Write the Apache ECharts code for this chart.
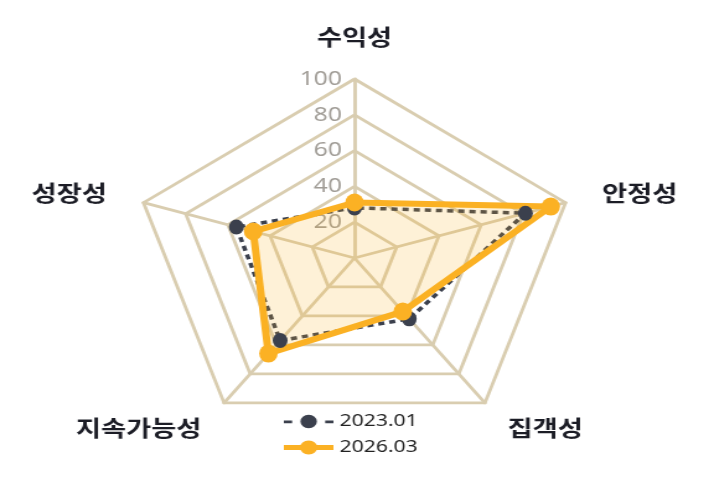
<!DOCTYPE html>
<html>
<head>
<meta charset="utf-8">
<script src="https://cdn.jsdelivr.net/npm/echarts@6/dist/echarts.min.js"></script>
<style>
  html, body { margin: 0; width: 709px; height: 487px; overflow: hidden; background: #fff; }
  /* the reference picture is stretched sideways, so the chart is drawn narrow and widened */
  #main { width: 572px; height: 487px; transform: scaleX(1.2395); transform-origin: 0 0; }
</style>
</head>
<body>
<div id="main"></div>
<script>
// indicators go counter-clockwise from the top
const indicators = ['수익성', '성장성', '지속가능성', '집객성', '안정성']
const series2023 = [28, 56, 57, 42, 81]
const series2026 = [31, 48, 66, 37, 93]
const seriesNames = ['2023.01', '2026.03']

const GRID = '#d9cdb0'
const DARK = '#3b404d'
const ORANGE = '#fbb124'

const chart = echarts.init(document.getElementById('main'))

const option = {
  animation: false,
  legend: {
    orient: 'vertical',
    left: 229,
    top: 413,
    padding: 0,
    itemWidth: 40,
    itemHeight: 14,
    itemGap: 9,
    textStyle: { fontFamily: 'Noto Sans', fontSize: 17, color: '#222' },
    data: [
      { name: seriesNames[0], icon: 'path://M2,6 L8,6 L8,8.5 L2,8.5 Z M14,7 A6,6 0 1,1 26,7 A6,6 0 1,1 14,7 Z M32,6 L38,6 L38,8.5 L32,8.5 Z' },
      { name: seriesNames[1], icon: 'path://M0,4.5 L40,4.5 L40,9.5 L0,9.5 Z M13,7 A7,7 0 1,1 27,7 A7,7 0 1,1 13,7 Z' }
    ]
  },
  radar: {
    center: [286, 258],
    radius: 179,
    startAngle: 90,
    splitNumber: 5,
    nameGap: 31,
    axisName: {
      color: '#1c1d26',
      fontSize: 22,
      fontWeight: 'bold',
      fontFamily: 'Noto Sans CJK KR'
    },
    axisLine: { lineStyle: { color: GRID, width: 2.8 } },
    splitLine: { lineStyle: { color: GRID, width: 2.8 } },
    splitArea: { show: false },
    indicator: indicators.map((name, i) => {
      const ind = { name: name, min: 0, max: 100 }
      if (i === 0) {
        ind.axisLabel = {
          show: true,
          showMinLabel: false,
          margin: 10,
          color: '#a19d97',
          fontSize: 20,
          fontFamily: 'Noto Sans'
        }
      }
      return ind
    })
  },
  series: [{
    type: 'radar',
    data: [
      {
        name: seriesNames[0],
        value: series2023,
        symbol: 'circle',
        symbolSize: [12, 15],
        itemStyle: { color: DARK },
        lineStyle: { color: DARK, width: 3.5, type: [5, 4] }
      },
      {
        name: seriesNames[1],
        value: series2026,
        symbol: 'circle',
        symbolSize: [15, 18],
        itemStyle: { color: ORANGE },
        lineStyle: { color: ORANGE, width: 6 },
        areaStyle: { color: 'rgba(251,177,36,0.26)' }
      }
    ]
  }]
}

chart.setOption(option)
</script>
</body>
</html>
